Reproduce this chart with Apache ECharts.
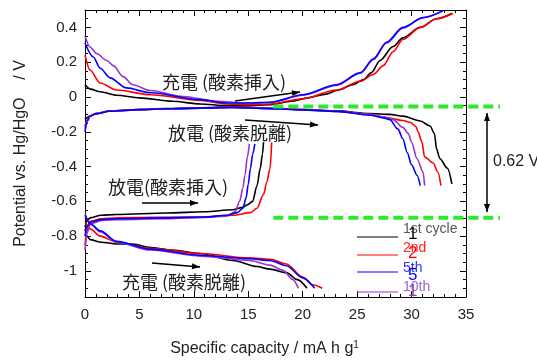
<!DOCTYPE html>
<html><head><meta charset="utf-8">
<script src="https://cdn.jsdelivr.net/npm/echarts@6.0.0/dist/echarts.min.js"></script>
<style>html,body{margin:0;padding:0;background:#fff}#c{width:537px;height:363px}</style>
</head><body><div id="c"></div>
<script>
// ---- tick labels ----
const xTicks = [0, 5, 10, 15, 20, 25, 30, 35];
const yTicks = [-1, -0.8, -0.6, -0.4, -0.2, 0, 0.2, 0.4];
const cycleNames = ['1st cycle', '2nd', '5th', '10th'];
const cycleColors = ['#000000', '#ff0000', '#0000ff', '#9933cc'];

// ---- upper charge (充電 酸素挿入) ----
const ucBlack = [[0,0.07],[0.5,0.045],[1.4,0.03],[2.9,0.01],[5,-0.005],[8,-0.025],[10.6,-0.04],[13,-0.05],[15,-0.05],[17,-0.045],[19,-0.025],[20.5,-0.005],[22,0.015],[23.3,0.04],[24.6,0.07],[25.6,0.1],[26.3,0.14],[27.1,0.21],[28.3,0.29],[29.2,0.34],[30.8,0.4],[32.3,0.45],[33.7,0.48]];
const ucRed = [[0,0.24],[0.46,0.155],[1.4,0.08],[2.9,0.04],[6,0.013],[10.6,-0.02],[13,-0.04],[15,-0.045],[17,-0.04],[20,-0.01],[23.1,0.04],[25.3,0.09],[26.5,0.13],[27.4,0.18],[28.3,0.26],[29.2,0.33],[30.8,0.4],[32.3,0.45],[33.8,0.48]];
const ucBlue = [[0,0.31],[0.76,0.23],[1.4,0.165],[2.3,0.11],[3.8,0.052],[6,0.024],[10.6,-0.015],[13,-0.035],[15,-0.035],[17,-0.03],[20,0.013],[23.1,0.07],[25.3,0.14],[26.5,0.22],[27.7,0.315],[29.2,0.4],[31.1,0.457],[32.9,0.495]];
const ucPurple = [[0,0.35],[0.46,0.287],[1.07,0.25],[2,0.21],[2.6,0.18],[3.5,0.117],[4.4,0.07],[6,0.037],[9,0.003],[12.1,-0.025],[15,-0.035],[17,-0.032],[20,0.01],[23.1,0.066],[25.3,0.136],[26.5,0.215],[27.7,0.31],[29.2,0.395],[31,0.455],[32.8,0.495]];

// ---- upper discharge (放電 酸素脱離) ----
const udBlack = [[0,-0.13],[0.2,-0.118],[0.46,-0.108],[1,-0.095],[2.3,-0.08],[5,-0.072],[7.5,-0.067],[13.6,-0.058],[17,-0.065],[20,-0.072],[23.1,-0.08],[26.2,-0.095],[28,-0.1],[29.2,-0.11],[30.8,-0.138],[31.7,-0.167],[32.1,-0.21],[32.3,-0.3],[32.6,-0.355],[33.3,-0.41],[33.7,-0.5]];
const udRed = [[0,-0.17],[0.2,-0.13],[0.46,-0.11],[1,-0.096],[2.3,-0.081],[5,-0.073],[7.5,-0.068],[13.6,-0.06],[17,-0.066],[20,-0.073],[23.1,-0.082],[26.2,-0.1],[27.7,-0.12],[29.2,-0.135],[29.9,-0.147],[30.4,-0.17],[30.6,-0.2],[30.95,-0.26],[31.2,-0.345],[32,-0.38],[32.4,-0.43],[32.7,-0.51]];
const udBlue = [[0,-0.2],[0.2,-0.14],[0.46,-0.112],[1,-0.097],[2.3,-0.082],[5,-0.073],[7.5,-0.068],[13.6,-0.06],[17,-0.067],[20,-0.074],[23.1,-0.083],[26.2,-0.105],[27.4,-0.12],[28,-0.13],[28.75,-0.185],[29.2,-0.24],[29.6,-0.32],[30,-0.39],[30.5,-0.45],[30.8,-0.51]];
const udPurple = [[0,-0.18],[0.2,-0.135],[0.46,-0.11],[1,-0.096],[2.3,-0.081],[5,-0.073],[7.5,-0.068],[13.6,-0.06],[17,-0.067],[20,-0.074],[23.1,-0.083],[26.2,-0.1],[27.5,-0.115],[28.3,-0.13],[29.2,-0.175],[29.7,-0.21],[30,-0.26],[30.5,-0.355],[31.05,-0.43],[31.2,-0.51]];

// ---- lower discharge (放電 酸素挿入) ----
const ldBlack = [[0,-0.75],[0.2,-0.71],[0.46,-0.695],[1.5,-0.68],[2.9,-0.676],[7.5,-0.667],[11,-0.66],[13.6,-0.648],[14.5,-0.635],[14.9,-0.62],[15.4,-0.6],[15.8,-0.51],[16.1,-0.41],[16.3,-0.33],[16.4,-0.26]];
const ldRed = [[0,-0.85],[0.15,-0.78],[0.46,-0.715],[1.5,-0.7],[2.9,-0.695],[10.6,-0.69],[13.6,-0.68],[15.2,-0.665],[15.8,-0.64],[16.4,-0.56],[16.7,-0.49],[17,-0.41],[17.15,-0.26]];
const ldBlue = [[0,-0.8],[0.2,-0.74],[0.5,-0.72],[1.5,-0.705],[3,-0.7],[7.5,-0.695],[11,-0.69],[13,-0.68],[14,-0.665],[14.5,-0.64],[14.8,-0.58],[15,-0.5],[15.2,-0.41],[15.4,-0.33],[15.6,-0.27]];
const ldPurple = [[0,-0.88],[0.2,-0.78],[0.5,-0.73],[1.5,-0.71],[3,-0.705],[7.5,-0.7],[11,-0.692],[13,-0.685],[13.8,-0.66],[14.2,-0.6],[14.5,-0.525],[14.7,-0.45],[14.9,-0.35],[15.1,-0.27]];

// ---- lower charge (充電 酸素脱離) ----
const lcBlack = [[0,-0.76],[0.2,-0.8],[0.46,-0.82],[1.5,-0.835],[2.9,-0.845],[4.4,-0.845],[6,-0.865],[8,-0.88],[10.6,-0.9],[13.6,-0.94],[15.8,-0.975],[17,-0.99],[18.5,-1.01],[19.5,-1.05],[20.4,-1.1]];
const lcRed = [[0,-0.72],[0.5,-0.76],[1.4,-0.8],[2.9,-0.835],[6,-0.87],[10.6,-0.9],[15.1,-0.925],[17,-0.933],[18.5,-0.96],[20,-1.035],[20.9,-1.08],[21.8,-1.1]];
const lcBlue = [[0,-0.68],[0.5,-0.73],[1.4,-0.77],[2.9,-0.83],[6,-0.875],[10.6,-0.91],[15.1,-0.93],[17,-0.94],[18.5,-0.97],[20,-1.04],[21.1,-1.1]];
const lcPurple = [[0,-0.67],[0.5,-0.73],[1.4,-0.775],[2.9,-0.835],[6,-0.88],[10.6,-0.915],[15.1,-0.94],[17,-0.967],[18.2,-0.997],[19.1,-1.05],[19.6,-1.1]];

// reference levels (green dashed lines)
const greenLevels = [-0.055, -0.695];

const cycles = [
  {segs: [ucBlack, udBlack, ldBlack, lcBlack]},
  {segs: [ucRed, udRed, ldRed, lcRed]},
  {segs: [ucPurple, udPurple, ldPurple, lcPurple]},
  {segs: [ucBlue, udBlue, ldBlue, lcBlue]}
];
const cycleIdx = [0, 1, 3, 2];

const series = [];
cycles.forEach((c, k) => {
  const i = cycleIdx[k];
  c.segs.forEach(seg => {
    series.push({
      type: 'line', name: cycleNames[i], data: seg, xAxisIndex: 0, yAxisIndex: 0,
      showSymbol: false, symbol: 'none', smooth: 0.3, smoothMonotone: 'x',
      lineStyle: {color: cycleColors[i], width: 1.6}, z: 3, silent: true, animation: false
    });
  });
});

const FONT = '"Liberation Sans", Arial, sans-serif';
const CJK = '"Noto Sans CJK JP", "Noto Sans CJK SC", sans-serif';
const fmtY = v => (Math.abs(v) < 1e-9 ? '0' : String(Number(v.toFixed(1))));

const baseX = {
  type: 'value', min: 0, max: 35, interval: 5,
  axisLine: {onZero: false, lineStyle: {color: '#000', width: 1}},
  axisTick: {inside: true, length: 6, lineStyle: {color: '#000'}},
  minorTick: {show: true, splitNumber: 5, length: 3, lineStyle: {color: '#000'}},
  splitLine: {show: false}, minorSplitLine: {show: false}
};
const baseY = {
  type: 'value', min: -1.15, max: 0.5,
  axisLine: {onZero: false, lineStyle: {color: '#000', width: 1}},
  splitLine: {show: false}
};

const chart = echarts.init(document.getElementById('c'), null, {renderer: 'canvas'});
chart.setOption({
  animation: false,
  backgroundColor: '#fff',
  grid: {left: 85, right: 71, top: 10, bottom: 62},
  xAxis: [
    Object.assign({}, baseX, {
      position: 'bottom',
      axisLabel: {color: '#222', fontSize: 15, fontFamily: FONT, margin: 10,
        formatter: v => (xTicks.indexOf(v) >= 0 ? String(v) : '')},
      name: 'Specific capacity / mA h g{s|1}', nameLocation: 'middle', nameGap: 43,
      nameTextStyle: {color: '#222', fontSize: 16, fontFamily: FONT, padding: [0, 22, 0, 0], lineHeight: 18,
        rich: {s: {fontSize: 10, fontFamily: FONT, color: '#222', verticalAlign: 'top', lineHeight: 10}}}
    }),
    Object.assign({}, baseX, {position: 'top', axisLabel: {show: false}})
  ],
  yAxis: [
    Object.assign({}, baseY, {position: 'left', interval: 0.05,
      axisTick: {inside: true, length: 3, lineStyle: {color: '#000'}}, axisLabel: {show: false}}),
    Object.assign({}, baseY, {position: 'left',
      axisLine: {show: false, onZero: false},
      axisTick: {inside: true, length: 6, customValues: yTicks, lineStyle: {color: '#000'}},
      axisLabel: {customValues: yTicks, formatter: fmtY, color: '#222', fontSize: 15, fontFamily: FONT, margin: 8},
      name: 'Potential vs. Hg/HgO    / V', nameLocation: 'middle', nameGap: 56,
      nameTextStyle: {color: '#222', fontSize: 16, fontFamily: FONT}}),
    Object.assign({}, baseY, {position: 'right', interval: 0.05,
      axisTick: {inside: true, length: 3, lineStyle: {color: '#000'}}, axisLabel: {show: false}}),
    Object.assign({}, baseY, {position: 'right',
      axisLine: {show: false, onZero: false},
      axisTick: {inside: true, length: 6, customValues: yTicks, lineStyle: {color: '#000'}},
      axisLabel: {show: false}})
  ],
  series: series
});

// ---- annotations ----
function arrow(x1, y1, x2, y2, both) {
  const els = [];
  const L = 8, W = 3;
  const ang = Math.atan2(y2 - y1, x2 - x1);
  const head = (x, y, a) => {
    const bx = x - L * Math.cos(a), by = y - L * Math.sin(a);
    return {type: 'polygon', shape: {points: [[x, y], [bx + W * Math.sin(a), by - W * Math.cos(a)], [bx - W * Math.sin(a), by + W * Math.cos(a)]]},
      style: {fill: '#000'}, z: 10};
  };
  els.push({type: 'line', shape: {x1: x1, y1: y1, x2: x2, y2: y2}, style: {stroke: '#000', lineWidth: 1.5}, z: 10});
  els.push(head(x2, y2, ang));
  if (both) els.push(head(x1, y1, ang + Math.PI));
  return els;
}
function label(txt, x, y, size, color, font) {
  return {type: 'text', x: x, y: y, z: 10,
    style: {text: txt, fill: color, font: size + 'px ' + (font || CJK), textVerticalAlign: 'middle', textAlign: 'left'}};
}

const gy = greenLevels.map(v => chart.convertToPixel({yAxisIndex: 0}, v));
const gx0 = chart.convertToPixel({xAxisIndex: 0}, 17.3);

let g = [];
gy.forEach(y => g.push({type: 'line', shape: {x1: gx0, y1: y, x2: 500, y2: y},
  style: {stroke: '#2de82d', lineWidth: 4, lineDash: [10, 5]}, z: 8}));
g = g.concat(arrow(235, 101, 300, 92));
g = g.concat(arrow(245, 120, 318, 125));
g = g.concat(arrow(142, 203, 198, 203));
g = g.concat(arrow(152, 263, 200, 267));
g = g.concat(arrow(487, 113, 487, 212, true));
g.push(label('充電 (酸素挿入)', 162, 82, 18, '#222'));
g.push(label('放電 (酸素脱離)', 168, 133, 18, '#222'));
g.push(label('放電(酸素挿入)', 108, 187, 18, '#222'));
g.push(label('充電 (酸素脱離)', 122, 282, 18, '#222'));
g.push(label('0.62 V', 493, 162, 16, '#222', FONT));

// legend
const legY = [237, 255, 272, 292];
const legTxtY = [229, 248, 268, 287];
const legTxtCol = ['#555555', '#ff2020', '#3333ff', '#9966cc'];
const overTxt = ['1', '2', '5', '1'];
const overY = [234, 253, 275, 291];
for (let i = 0; i < 4; i++) {
  g.push({type: 'line', shape: {x1: 357, y1: legY[i], x2: 398, y2: legY[i]}, style: {stroke: cycleColors[i], lineWidth: 1.2}, z: 10});
  g.push(label(cycleNames[i], 403, legTxtY[i], 14, legTxtCol[i], FONT));
  g.push(label(overTxt[i], 408, overY[i], 17, cycleColors[i], FONT));
}
chart.setOption({graphic: g});
</script>
</body></html>
